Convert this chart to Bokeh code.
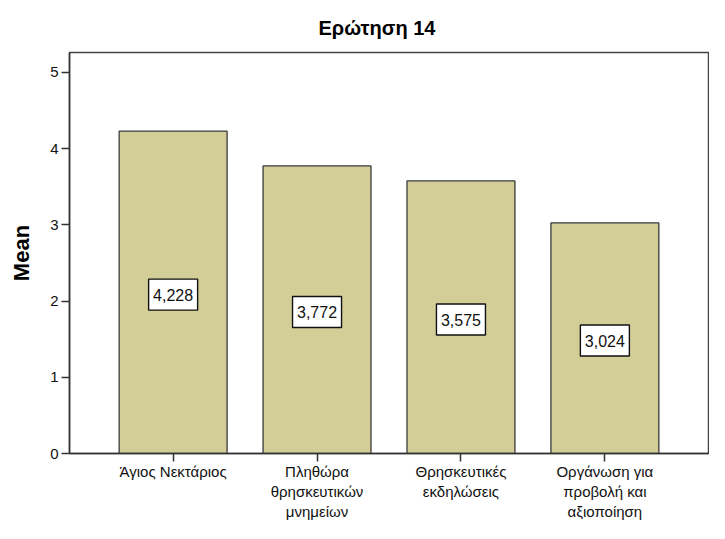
from bokeh.plotting import figure
from bokeh.models import Range1d, FixedTicker, ColumnDataSource, Title
from bokeh.core.properties import value
from bokeh.embed import file_html
from bokeh.resources import INLINE

# ---- data ----
categories = ["Άγιος Νεκτάριος", "Πληθώρα\nθρησκευτικών\nμνημείων",
              "Θρησκευτικές\nεκδηλώσεις", "Οργάνωση για\nπροβολή και\nαξιοποίηση"]
means = [4.228, 3.772, 3.575, 3.024]
y_ticks = [0, 1, 2, 3, 4, 5]

FONT = "Liberation Sans"
BAR_COLOR = "#D3CE97"

xs = list(range(len(categories)))
labels = [f"{v:.3f}".replace(".", ",") for v in means]
label_y = [v / 2 - 0.03 for v in means]

src = ColumnDataSource(dict(x=xs, top=means, label=labels, ly=label_y))

p = figure(width=709, height=523, output_backend="svg", toolbar_location=None,
           x_range=Range1d(-0.72, 3.72), y_range=Range1d(0, 5.26),
           min_border_left=69, min_border_right=1, min_border_top=52, min_border_bottom=60)

p.title = Title(text="Ερώτηση 14", align="left", offset=249, standoff=27,
                text_font=FONT, text_font_size="20px", text_font_style="bold",
                text_color="#000000")

p.vbar(x="x", top="top", width=0.75, bottom=0, source=src,
       fill_color=BAR_COLOR, line_color="#3a3a3a", line_width=1.3)

p.rect(x="x", y="ly", width=49, height=31, width_units="screen", height_units="screen",
       source=src, fill_color="white", line_color="#111111", line_width=1.4)
p.text(x="x", y="ly", text="label", source=src, text_align="center",
       text_baseline="middle", text_font=value(FONT), text_font_size="16px",
       text_color="#111111")

p.grid.visible = False
p.outline_line_color = "#444444"
p.outline_line_width = 1.5
p.background_fill_color = "white"
p.border_fill_color = "white"

# x axis
p.xaxis.ticker = FixedTicker(ticks=xs)
p.xaxis.major_label_overrides = {i: c for i, c in zip(xs, categories)}
p.xaxis.major_tick_out = 8
p.xaxis.major_tick_in = 0
p.xaxis.minor_tick_line_color = None
p.xaxis.major_label_standoff = 1
p.xaxis.major_label_text_font = FONT
p.xaxis.major_label_text_font_size = "15px"
p.xaxis.major_label_text_color = "#111111"
p.xaxis.axis_line_color = "#333333"
p.xaxis.axis_line_width = 1.5
p.xaxis.major_tick_line_color = "#333333"
p.xaxis.major_tick_line_width = 1.5

# y axis
p.yaxis.ticker = FixedTicker(ticks=y_ticks)
p.yaxis.major_tick_out = 8
p.yaxis.major_tick_in = 0
p.yaxis.minor_tick_line_color = None
p.yaxis.major_label_standoff = 3
p.yaxis.major_label_text_font = FONT
p.yaxis.major_label_text_font_size = "15px"
p.yaxis.major_label_text_color = "#111111"
p.yaxis.axis_line_color = "#333333"
p.yaxis.axis_line_width = 1.5
p.yaxis.major_tick_line_color = "#333333"
p.yaxis.major_tick_line_width = 1.5
p.yaxis.axis_label = "Mean"
p.yaxis.axis_label_text_font = FONT
p.yaxis.axis_label_text_font_size = "22px"
p.yaxis.axis_label_text_font_style = "bold"
p.yaxis.axis_label_text_color = "#000000"
p.yaxis.axis_label_standoff = 13

open("out.html", "w").write(file_html(p, INLINE))
